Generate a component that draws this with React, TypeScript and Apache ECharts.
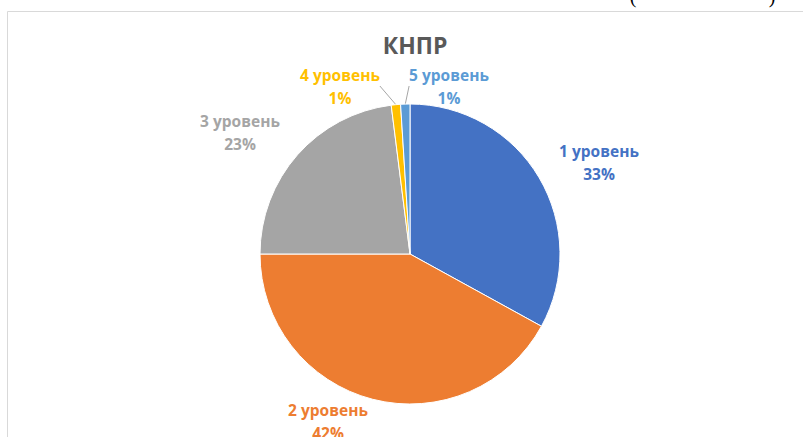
import React, { useEffect, useRef } from "react";
import * as echarts from "echarts";

const titleText = "КНПР";
const categories = ["1 уровень", "2 уровень", "3 уровень", "4 уровень", "5 уровень"];
const values = [33, 42, 23, 1, 1];
const colors = ["#4472C4", "#ED7D31", "#A5A5A5", "#FFC000", "#5B9BD5"];
const showLeader = [false, false, false, true, true];
// label block centres (layout only)
const labelPos: number[][] = [
  [599, 162],
  [328, 421],
  [240, 132],
  [340, 86],
  [449, 86],
];

export default function App() {
  const ref = useRef<HTMLDivElement>(null);
  useEffect(() => {
    if (!ref.current) return;
    const chart = echarts.init(ref.current, null, { renderer: "svg" });
    const font = "'Open Sans', 'Noto Sans', sans-serif";
    chart.setOption({
      animation: false,
      backgroundColor: "#ffffff",
      title: {
        text: titleText,
        left: 410,
        top: 28,
        textAlign: "center",
        textStyle: { fontFamily: font, fontSize: 23, fontWeight: "bold", color: "#595959" },
      },
      graphic: [
        {
          type: "rect",
          shape: { x: 7.5, y: 11.5, width: 1000, height: 1000 },
          style: { fill: "none", stroke: "#d9d9d9", lineWidth: 1 },
          silent: true,
        },
        {
          type: "text",
          x: 633,
          y: -4,
          style: { text: "(", fontFamily: "'Liberation Serif', serif", fontSize: 20, fill: "#000", textAlign: "center", textVerticalAlign: "middle" },
        },
        {
          type: "text",
          x: 772,
          y: -4,
          style: { text: ")", fontFamily: "'Liberation Serif', serif", fontSize: 20, fill: "#000", textAlign: "center", textVerticalAlign: "middle" },
        },
      ],
      series: [
        {
          type: "pie",
          center: [410, 254],
          radius: 150,
          startAngle: 90,
          clockwise: true,
          avoidLabelOverlap: false,
          itemStyle: { borderColor: "#ffffff", borderWidth: 1 },
          label: {
            show: true,
            position: "outside",
            fontFamily: font,
            fontSize: 15.5,
            fontWeight: "bold",
            lineHeight: 23,
            align: "center",
            formatter: (p: any) => `${p.name}\n${Math.round(p.percent)}%`,
          },
          labelLine: {
            show: true,
            length: 10,
            length2: 0,
            lineStyle: { color: "#A6A6A6", width: 1 },
          },
          labelLayout: (params: any) => {
            const pos = labelPos[params.dataIndex];
            return { x: pos[0], y: pos[1], align: "center", verticalAlign: "middle" };
          },
          data: categories.map((c, i) => ({
            name: c,
            value: values[i],
            itemStyle: { color: colors[i] },
            label: { color: colors[i] },
            labelLine: { show: showLeader[i] },
          })),
        },
      ],
    });
    return () => chart.dispose();
  }, []);
  return (
    <div
      ref={ref}
      style={{ position: "absolute", left: 0, top: 0, width: 803, height: 437 }}
    />
  );
}
